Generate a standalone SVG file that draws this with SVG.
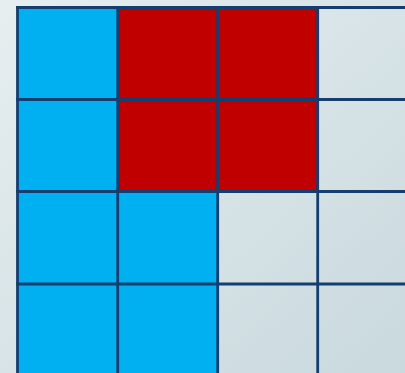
<svg xmlns="http://www.w3.org/2000/svg" width="405" height="373" viewBox="0 0 405 373">
  <defs>
    <linearGradient id="bg" x1="0" y1="0" x2="1" y2="1">
      <stop offset="0" stop-color="#e6eef0"/>
      <stop offset="1" stop-color="#c9d9de"/>
    </linearGradient>
    <style>
      .blue { fill: #00b0f0; }
      .red { fill: #c00000; }
      .grid line { stroke: #133e6f; stroke-width: 2.8; }
    </style>
  </defs>
  <rect x="0" y="0" width="405" height="373" fill="url(#bg)"/>
  <g id="cells">
    <g id="cell-r1c1"><rect class="blue" x="17.5" y="7.5" width="100.2" height="92"/></g>
    <g id="cell-r1c2"><rect class="red" x="117.7" y="7.5" width="100" height="92"/></g>
    <g id="cell-r1c3"><rect class="red" x="217.7" y="7.5" width="100" height="92"/></g>
    <g id="cell-r2c1"><rect class="blue" x="17.5" y="99.5" width="100.2" height="92"/></g>
    <g id="cell-r2c2"><rect class="red" x="117.7" y="99.5" width="100" height="92"/></g>
    <g id="cell-r2c3"><rect class="red" x="217.7" y="99.5" width="100" height="92"/></g>
    <g id="cell-r3c1"><rect class="blue" x="17.5" y="191.5" width="100.2" height="92.5"/></g>
    <g id="cell-r3c2"><rect class="blue" x="117.7" y="191.5" width="100" height="92.5"/></g>
    <g id="cell-r4c1"><rect class="blue" x="17.5" y="284" width="100.2" height="89"/></g>
    <g id="cell-r4c2"><rect class="blue" x="117.7" y="284" width="100" height="89"/></g>
  </g>
  <g id="grid" class="grid">
    <line x1="17.5" y1="6.1" x2="17.5" y2="373"/>
    <line x1="117.7" y1="6.1" x2="117.7" y2="373"/>
    <line x1="217.7" y1="6.1" x2="217.7" y2="373"/>
    <line x1="317.7" y1="6.1" x2="317.7" y2="373"/>
    <line x1="16.1" y1="7.5" x2="405" y2="7.5"/>
    <line x1="16.1" y1="99.5" x2="405" y2="99.5"/>
    <line x1="16.1" y1="191.5" x2="405" y2="191.5"/>
    <line x1="16.1" y1="284" x2="405" y2="284"/>
  </g>
</svg>
